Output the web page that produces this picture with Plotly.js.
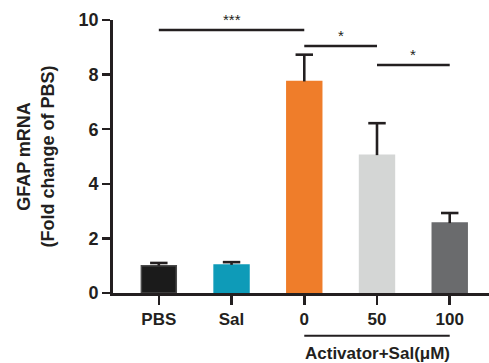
<!DOCTYPE html>
<html>
<head>
<meta charset="utf-8">
<script src="https://cdn.plot.ly/plotly-3.0.1.min.js"></script>
<style>html,body{margin:0;padding:0;background:#fff;}#chart{width:489px;height:363px;}</style>
</head>
<body>
<div id="chart"></div>
<script>
const categories = ["PBS", "Sal", "0", "50", "100"];
const values = [1.0, 1.03, 7.75, 5.05, 2.56];
const errorsUp = [0.1, 0.1, 0.98, 1.17, 0.37];
const barColors = ["#1b1b1b", "#0e9bb8", "#ef7d2a", "#d4d6d5", "#6a6b6d"];
const barLines = ["#4a4a4a", "#0e9bb8", "#ef7d2a", "#d4d6d5", "#6a6b6d"];
// significance brackets: [fromIndex, toIndex, height, label]
const sigFrom = [0, 2, 3];
const sigTo = [2, 3, 4];
const sigHeight = [9.63, 9.05, 8.35];
const sigLabel = ["***", "*", "*"];
const groupLabel = "Activator+Sal(μM)";
const groupFrom = 2, groupTo = 4;

const ink = "#231f20";
const xIdx = categories.map((c, i) => i);
const capHalf = 0.12;

const trace = {
  type: "bar",
  x: xIdx,
  y: values,
  width: 0.48,
  marker: {color: barColors, line: {color: barLines, width: 1.5}},
  hoverinfo: "none"
};

// upper-only error bars built from values + errorsUp
const ex = [], ey = [];
xIdx.forEach((x, i) => {
  const top = values[i] + errorsUp[i];
  ex.push(x, x, null, x - capHalf, x + capHalf, null);
  ey.push(values[i], top, null, top, top, null);
});
const errTrace = {
  type: "scatter", mode: "lines", x: ex, y: ey,
  line: {color: ink, width: 2.6}, hoverinfo: "none", connectgaps: false
};

const shapes = [];
const annotations = [];
for (let i = 0; i < sigFrom.length; i++) {
  shapes.push({type: "line", xref: "x", yref: "y", x0: sigFrom[i], x1: sigTo[i],
    y0: sigHeight[i], y1: sigHeight[i], line: {color: ink, width: 2.5}});
  annotations.push({xref: "x", yref: "y", x: (sigFrom[i] + sigTo[i]) / 2, y: sigHeight[i],
    text: sigLabel[i], showarrow: false, yanchor: "bottom", yshift: 0,
    font: {family: "Liberation Sans, Arial", size: 15, color: ink}});
}
shapes.push({type: "line", xref: "x", yref: "paper", x0: groupFrom, x1: groupTo,
  y0: -0.157, y1: -0.157, line: {color: ink, width: 2}});
annotations.push({xref: "x", yref: "paper", x: (groupFrom + groupTo) / 2, y: -0.222,
  text: groupLabel, showarrow: false, yanchor: "middle",
  font: {family: "Liberation Sans, Arial", size: 17, color: ink, weight: "bold"}});

const layout = {
  width: 489, height: 363,
  margin: {l: 113, r: 0, t: 20, b: 70},
  paper_bgcolor: "#fff", plot_bgcolor: "#fff",
  showlegend: false,
  font: {family: "Liberation Sans, Arial", color: ink},
  xaxis: {
    range: [-0.63, 4.54], tickmode: "array", tickvals: xIdx, ticktext: categories,
    showline: true, linecolor: ink, linewidth: 2.8, ticks: "outside", ticklen: 9, tickwidth: 2.5,
    tickcolor: ink, showgrid: false, zeroline: false,
    tickfont: {size: 17, color: ink, weight: "bold"}
  },
  yaxis: {
    range: [0, 10], tickvals: [0, 2, 4, 6, 8, 10],
    showline: true, linecolor: ink, linewidth: 2.8, ticks: "outside", ticklen: 8, tickwidth: 2.5,
    tickcolor: ink, showgrid: false, zeroline: false,
    tickfont: {size: 18, color: ink, weight: "bold"},
    title: {text: "GFAP mRNA<br>(Fold change of PBS)", standoff: 20,
            font: {size: 18, color: ink, weight: "bold"}}
  },
  shapes: shapes,
  annotations: annotations
};

Plotly.newPlot("chart", [trace, errTrace], layout, {displayModeBar: false, staticPlot: true});
</script>
</body>
</html>
